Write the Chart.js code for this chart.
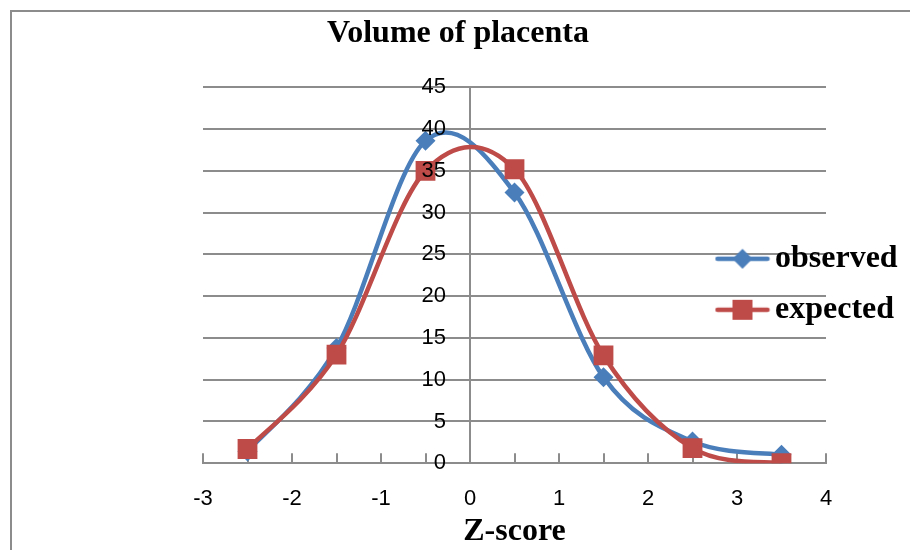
<!DOCTYPE html>
<html lang="en">
<head>
    <meta charset="UTF-8">
    <title>Volume of placenta</title>
    <script src="https://cdn.jsdelivr.net/npm/chart.js@4.4.1/dist/chart.umd.min.js"></script>
    <style>
        body { margin: 0; background: #fff; }
        #wrap { position: relative; width: 910px; height: 550px; overflow: hidden; }
        #frame { position: absolute; left: 10px; top: 10px; width: 1000px; height: 1000px;
                 border-left: 2px solid #8c8c8c; border-top: 2px solid #8c8c8c; pointer-events: none; }
    </style>
</head>
<body>
<div id="wrap">
    <canvas id="chart" width="910" height="550"></canvas>
    <div id="frame"></div>
</div>

<script>
// z-score classes and counts
const zScores  = [-2.5, -1.5, -0.5, 0.5, 1.5, 2.5, 3.5];
const observed = [1.4, 13.8, 38.6, 32.4, 10.3, 2.6, 1.0];
const expected = [1.7, 13.0, 35.0, 35.2, 12.9, 1.8, 0.0];

const xTickMin = -3, xTickMax = 4;
const yTickMax = 45, yStep = 5;

const blue = '#4a7ebb';
const red = '#be4b48';
const gray = '#8c8c8c';
const serif = '"Liberation Serif", "Times New Roman", serif';
const sans = '"Liberation Sans", Arial, sans-serif';

// legend symbol: short line with the marker in the middle (like excel)
function legendSymbol(color, shape) {
    const c = document.createElement('canvas');
    c.width = 56; c.height = 24;
    const g = c.getContext('2d');
    g.strokeStyle = color; g.lineWidth = 4.5; g.lineCap = 'round';
    g.beginPath(); g.moveTo(3, 12); g.lineTo(53, 12); g.stroke();
    g.fillStyle = color;
    g.beginPath();
    if (shape === 'diamond') {
        g.moveTo(28, 2); g.lineTo(38, 12); g.lineTo(28, 22); g.lineTo(18, 12);
    } else {
        g.rect(18, 2, 20, 20);
    }
    g.fill();
    return c;
}
const symbols = [legendSymbol(blue, 'diamond'), legendSymbol(red, 'square')];

function pts(ys) {
    return zScores.map((x, i) => ({ x: x, y: ys[i] }));
}

// excel draws legend over the plot and centres the title on the whole frame
const boxPlace = {
    id: 'boxPlace',
    afterLayout(chart) {
        const lg = chart.legend, a = chart.chartArea;
        lg.left = a.right - 119;
        lg.right = chart.width;
        lg.width = lg.right - lg.left;
        lg.top = a.top + 9;
        lg.bottom = a.bottom + 9;
        lg.height = lg.bottom - lg.top;
        const t = chart.titleBlock;
        t.left = 0; t.right = chart.width + 6; t.width = t.right - t.left;
    }
};

// excel style smoothing (catmull-rom, 1/6 of the chord) on the pixel positions
const excelSmooth = {
    id: 'excelSmooth',
    beforeDatasetsDraw(chart) {
        chart.data.datasets.forEach((ds, i) => {
            const meta = chart.getDatasetMeta(i);
            const p = meta.data;
            p.forEach((pt, k) => {
                const a = p[Math.max(k - 1, 0)], b = p[Math.min(k + 1, p.length - 1)];
                const dx = (b.x - a.x) / 6, dy = (b.y - a.y) / 6;
                pt.cp1x = pt.x - dx; pt.cp1y = pt.y - dy;
                pt.cp2x = pt.x + dx; pt.cp2y = pt.y + dy;
            });
            meta.dataset._pointsUpdated = true;
        });
    }
};

const ctx = document.getElementById('chart').getContext('2d');
const myChart = new Chart(ctx, {
    type: 'line',
    data: {
        datasets: [{
            label: 'observed',
            data: pts(observed),
            borderColor: blue,
            backgroundColor: blue,
            borderWidth: 4.5,
            pointStyle: 'rectRot',
            pointRadius: 10,
            pointBorderWidth: 0,
            tension: 0.4,
            order: 1
        }, {
            label: 'expected',
            data: pts(expected),
            borderColor: red,
            backgroundColor: red,
            borderWidth: 4.5,
            pointStyle: 'rect',
            pointRadius: 14,
            pointBorderWidth: 0,
            tension: 0.4,
            order: 0
        }]
    },
    options: {
        responsive: false,
        animation: false,
        layout: { padding: { left: 203, right: 84, top: 0, bottom: 0 } },
        plugins: {
            tooltip: { enabled: false },
            title: {
                display: true,
                text: 'Volume of placenta',
                color: '#000',
                font: { family: serif, size: 32, weight: 'bold' },
                padding: { top: 15, bottom: 34 }
            },
            legend: {
                position: 'chartArea',
                align: 'center',
                labels: {
                    usePointStyle: true,
                    pointStyleWidth: 33,
                    padding: 19,
                    color: '#000',
                    font: { family: serif, size: 32, weight: 'bold' },
                    sort: (a, b) => a.datasetIndex - b.datasetIndex,
                    generateLabels(chart) {
                        const items = Chart.defaults.plugins.legend.labels.generateLabels(chart);
                        items.forEach(it => { it.pointStyle = symbols[it.datasetIndex]; });
                        return items;
                    }
                }
            }
        },
        scales: {
            x: {
                type: 'linear',
                min: xTickMin,
                max: xTickMax,
                grid: { drawOnChartArea: false, drawTicks: true, tickLength: -10, color: gray, lineWidth: 2 },
                border: { color: gray, width: 2 },
                ticks: {
                    stepSize: 0.5,
                    autoSkip: false,
                    maxRotation: 0,
                    padding: 33,
                    color: '#000',
                    font: { family: sans, size: 22 },
                    callback: v => Number.isInteger(v) ? String(v) : ''
                },
                title: {
                    display: true,
                    text: 'Z-score',
                    color: '#000',
                    font: { family: serif, size: 32, weight: 'bold' },
                    padding: { top: -33, bottom: -1 }
                }
            },
            // axis line and gridlines, crossing at z = 0
            y: {
                position: { x: 0 },
                min: 0,
                max: yTickMax,
                grid: { color: gray, lineWidth: 2, drawTicks: false },
                border: { color: gray, width: 2 },
                ticks: { stepSize: yStep, display: false }
            },
            // value labels, a little left of the axis line, drawn above the series
            yLabels: {
                position: { x: -0.27 },
                axis: 'y',
                min: 0,
                max: yTickMax,
                grid: { display: false },
                border: { display: false },
                ticks: {
                    z: 1,
                    stepSize: yStep,
                    color: '#000',
                    font: { family: sans, size: 22 }
                }
            }
        }
    },
    plugins: [boxPlace, excelSmooth]
});
</script>
</body>
</html>
